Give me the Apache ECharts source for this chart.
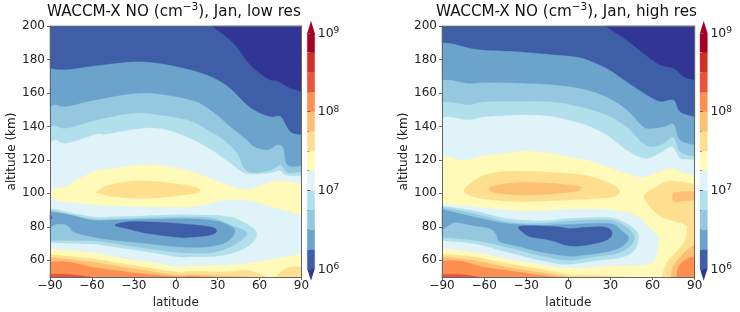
<!DOCTYPE html>
<html><head><meta charset="utf-8">
<style>html,body{margin:0;padding:0;background:#fff}#c{width:740px;height:312px;filter:blur(0.35px)}</style>
<script src="https://cdn.jsdelivr.net/npm/echarts@6/dist/echarts.min.js"></script>
</head><body><div id="c"></div>
<script>
// Filled-contour band colours, lowest level upward
const under='#313695', over='#a50026';
const bandColors=['#3f5ea8','#6ba3cc','#94c8e0','#b1dfeb','#e0f3f8','#fffab8','#fedf90','#fdbf74','#fd9050','#e8553a','#d03028','#a50026'];
const levelExponents=[6,6.25,6.5,6.75,7,7.25,7.5,7.75,8,8.25,8.5,8.75,9];
const C={navy:under,c60:bandColors[0],c62:bandColors[1],c65:bandColors[2],c67:bandColors[3],c70:bandColors[4],c72:bandColors[5],c75:bandColors[6],c77:bandColors[7],c80:bandColors[8],c82:bandColors[9]};
const latTicks=[-90,-60,-30,0,30,60,90];
const altTicks=[60,80,100,120,140,160,180,200];
const cbTicks=[6,7,8,9];

// ---- low-res contours: [latitude, altitude km]
const lowFrame=[[-90,50],[90,50],[90,200],[-90,200]];
const lowTopB0=[[-90,130],[-86,132],[-78,130],[-56.6,135.5],[-50,135.5],[-23,139],[-6.5,138],[13,131.9],[27.4,125],[39.3,118],[50,112],[65.6,112],[74.6,113.6],[78.7,111],[90,110.4],[90,200],[-90,200]];
const lowTop94=[[-90,140],[-86,140.5],[-78,139],[-56,144],[-30,148],[-13,147],[10,143.5],[24.5,137],[34.5,131.9],[44,124],[49,115],[56,112.4],[68,114],[75,117],[80,112.4],[90,113],[90,200],[-90,200]];
const lowTop6b=[[-90,152],[-86,153],[-78,152],[-56.6,156],[-23,160],[10,156],[24.5,150],[39,140],[51,131.9],[56,128],[65.6,126],[72.7,129],[77,127],[80,117],[90,116.4],[90,200],[-90,200]];
const lowTop40=[[-90,174.7],[-78,174],[-54,176.7],[-23,178.7],[10,174],[34,166],[53,151.6],[67,146],[75,146],[82,137],[90,135],[90,200],[-90,200]];
const lowTopNavy=[[26,200],[41,190],[52,178],[60,172],[67,168],[73,167],[82,163],[90,161],[90,200]];
const lowYellow=[[-90,100],[-86,103],[-78,104],[-71,108],[-56.6,113.5],[-47,114.5],[-23,117],[-6.5,116],[10.7,113],[27.4,108],[46.5,102.4],[56,103],[72.7,107.4],[90,105.4],[90,87],[65,93],[52,96],[34,96],[24.5,94],[10,92],[-23,92],[-54,93],[-78,95],[-86,96]];
const lowOrange=[[-56.6,101],[-47,105],[-23,107.5],[10,104.5],[17.4,101.5],[10,99.5],[-19,97],[-45,98],[-54,100]];
const lowRingB0=[[-90,91],[-60,86],[-44,86],[-20,86.6],[2,87.2],[34,86.5],[48,83],[58,76],[51,68],[34,63],[10,62],[2,62],[-20,65],[-44,68],[-60,69.7],[-90,70.5]];
const lowRing94=[[-90,90],[-60,84.7],[-44,84.7],[2,85.8],[25,85.3],[38,81.5],[51,76],[39,68],[24.5,64.5],[2,64.7],[-20,67],[-44,70],[-60,71.7],[-90,71.7]];
const lowRing6b=[[-90,89],[-77,87.4],[-60,84],[-44,84],[2,84.8],[24.5,84],[36.5,81.5],[42.4,77.5],[36.5,71],[22,68],[2,68],[-20,70],[-44,72],[-60,74],[-72.3,76.7],[-75.9,79.5],[-79.5,81.5],[-85.4,81.5],[-90,79.5]];
const lowSpot=[[-90,87],[-88.5,85.5],[-90,84]];
const lowRing40=[[-43.7,81],[-34,83],[-20,83],[2,82],[24.5,80],[29.3,77.5],[24.5,75],[10,73.7],[2,73.7],[-20,76],[-34,78.7]];
const lowBotYellow=[[-90,66.5],[-60,64.7],[-44,62],[-20,59],[2,56],[10,56.5],[34,57],[51,58],[72,61],[90,63.7],[90,50],[-90,50]];
const lowBot75=[[-90,63.5],[-60,61],[-44,58.8],[-20,55.6],[2,52.8],[10,53.5],[34,53],[51,54],[65,50],[-90,50]];
const lowBot75b=[[72,50],[75,53],[82,56],[90,56],[90,50]];
const lowBot77=[[-90,61.7],[-60,59],[-44,56.8],[-20,53.6],[2,51],[10,51.5],[25,51],[52,50],[-90,50]];
const lowBot80=[[-90,59],[-77,59],[-60,56],[-44,54],[-20,51.6],[0,50.2],[10,50.4],[25,50],[-90,50]];
const lowBot82=[[-90,51.8],[-77,51.6],[-60,50],[-90,50]];

// ---- high-res contours
const highFrame=[[-90,50],[90,50],[90,200],[-90,200]];
const highTopE0=[[-90,121],[-85.5,122.3],[-78,120],[-70,120.5],[-59,122.9],[-50,123.5],[-31,125.3],[-12,123.9],[5,121],[13,120],[27.4,116],[41.6,112],[51,109.6],[58.3,111],[72.5,115],[79.6,113],[90,110.6],[90,200],[-90,200]];
const highTopB0=[[-90,144.8],[-85.5,145.8],[-71,144],[-59,145.8],[-31,147],[-12,146],[5,142.8],[13,140.8],[27.4,134.9],[41.6,125.9],[54.7,121],[65.4,124.3],[73.7,127.9],[79.6,121],[84.4,120.5],[90,120],[90,200],[-90,200]];
const highTop94=[[-90,153.8],[-85.5,154.8],[-71,153],[-59.4,154.8],[-35.6,155],[-12,154.8],[5,152.4],[13,150.8],[27.4,146.8],[41.6,139.8],[52,130.9],[59.5,127.9],[67.8,130],[75,133.5],[79.6,125],[90,122],[90,200],[-90,200]];
const highTop6b=[[-90,167.7],[-83,167.7],[-71,165.7],[-59.4,166.3],[-35.6,166],[-12,165],[5,163.3],[13,161.8],[27,157.8],[41.6,150],[52,140.8],[57,138.8],[67.8,139.8],[75,141.4],[79.6,131.9],[90,129],[90,200],[-90,200]];
const highTop40=[[-90,190],[-83,189.6],[-71,187],[-59.4,185.7],[-35.6,184.7],[-12,183],[5,181.7],[13,180],[27.4,174.7],[41.6,166.7],[56,158.8],[65.4,155],[75,155.8],[79.6,148.8],[90,145.8],[90,200],[-90,200]];
const highTopNavy=[[26,200],[41.6,191.6],[53.5,183.7],[65.4,176.7],[74.9,174.7],[83,169.3],[90,168],[90,200]];
const highOrange=[[-73.6,103],[-59.4,111],[-35.6,113.3],[5,111.5],[20,109],[32,105],[36.4,101.4],[33,98],[20,97],[1,96],[-35.6,95],[-59.4,96.6],[-71,99]];
const highOrange2=[[-56.5,102.6],[-50,105],[-28,106.6],[5,104.6],[8.4,102.4],[1,100.6],[-28,99],[-50,100]];
const highRight75=[[54,98],[63,104],[72.5,107.4],[90,105.4],[90,50],[66.6,50],[69.7,58],[75.6,64],[82.7,71],[84.4,78],[82.7,81.5],[65,86.6]];
const highRight77a=[[75,100],[82,101],[90,101],[90,96],[82,95.4],[75,95]];
const highRight77b=[[73,50],[75,57],[83,65],[90,69],[90,50]];
const highRight80=[[76.8,50],[79,57],[85,61],[90,62],[90,50]];
const highRingE0=[[-90,93.4],[-67,92],[-44,90],[-20,89.5],[1,90.5],[22,90.5],[39,89],[49.5,86],[58,79],[64,74],[62.6,63],[56.6,57.6],[29,56.6],[1,55.5],[-20,57.6],[-44,61],[-67.6,65],[-90,67]];
const highRingB0=[[-90,92.4],[-67.6,89.6],[-44,85],[-20,83.5],[1,85],[29.3,85.5],[41,82],[48,78],[50,73],[47,66],[39,62],[22,60],[-1.6,57.6],[-20,60],[-44,65],[-67.6,70],[-90,71.7]];
const highRing94=[[-90,91.4],[-67.6,88],[-44,83],[-20,82],[1,83.5],[29,84],[41,80],[47,74],[43.5,68],[34,64],[17.4,62],[0,60],[-20,62.7],[-44,68],[-67.6,72],[-90,73.7]];
const highRing6b=[[-90,90.4],[-67.6,86],[-44,82],[-20,81],[1,81.5],[29,82],[37.6,78],[43,73],[37.6,68],[27,65],[10,63],[0,62.5],[-20,65],[-34,68],[-48.6,71],[-51,75],[-55.8,79],[-67.6,80.7],[-79.5,82.7],[-84,81.5],[-90,78]];
const highRing40=[[-35.6,79.7],[-29.6,80.7],[-8,80],[1,79],[12.7,79.7],[27,79.7],[31.2,76],[27,72],[12.7,69],[0,68.7],[-13,72],[-27,74],[-33,77]];
const highBot75=[[-90,63.7],[-67,62],[-44,58],[-20,54.8],[1,51.5],[22,51],[41,50],[-90,50]];
const highBot77=[[-90,62],[-67,59.8],[-44,56],[-20,52.8],[1,50],[-90,50]];
const highBot80=[[-90,59.6],[-77,59.6],[-60.5,56],[-44,54],[-20,51],[-8,50],[-90,50]];
const highBot82=[[-90,51.6],[-77,51.6],[-64,50],[-90,50]];

const lowLayers=[[C.c70,lowFrame],[C.c67,lowTopB0],[C.c65,lowTop94],[C.c62,lowTop6b],[C.c60,lowTop40],[C.navy,lowTopNavy],
 [C.c72,lowYellow],[C.c75,lowOrange],[C.c67,lowRingB0],[C.c65,lowRing94],[C.c62,lowRing6b],[C.c60,lowSpot],[C.c60,lowRing40],
 [C.c72,lowBotYellow],[C.c75,lowBot75],[C.c75,lowBot75b],[C.c77,lowBot77],[C.c80,lowBot80],[C.c82,lowBot82]];
const highLayers=[[C.c72,highFrame],[C.c70,highTopE0],[C.c67,highTopB0],[C.c65,highTop94],[C.c62,highTop6b],[C.c60,highTop40],[C.navy,highTopNavy],
 [C.c75,highOrange],[C.c77,highOrange2],[C.c75,highRight75],[C.c77,highRight77a],[C.c77,highRight77b],[C.c80,highRight80],
 [C.c70,highRingE0],[C.c67,highRingB0],[C.c65,highRing94],[C.c62,highRing6b],[C.c60,highRing40],
 [C.c75,highBot75],[C.c77,highBot77],[C.c80,highBot80],[C.c82,highBot82]];

// Smooth a contour for drawing (the frame edges stay straight)
const onEdge=(a,b)=>(Math.abs(a[0])===90&&a[0]===b[0])||((a[1]===50||a[1]===200)&&a[1]===b[1]);
function smooth(pts){
  const n=pts.length,out=[];
  for(let i=0;i<n;i++){
    let p1=pts[i],p2=pts[(i+1)%n],p0=pts[(i-1+n)%n],p3=pts[(i+2)%n];
    if(onEdge(p1,p2)){out.push(p1);continue;}
    if(onEdge(p0,p1))p0=p1;
    if(onEdge(p2,p3))p3=p2;
    for(let k=0;k<8;k++){
      const t=k/8,t2=t*t,t3=t2*t;
      const f=j=>0.5*(2*p1[j]+(p2[j]-p0[j])*t+(2*p0[j]-5*p1[j]+4*p2[j]-p3[j])*t2+(3*p1[j]-p0[j]-3*p2[j]+p3[j])*t3);
      out.push([Math.max(-90,Math.min(90,f(0))),Math.max(50,Math.min(200,f(1)))]);
    }
  }
  return out;
}
function layerSeries(layer,g){
  const color=layer[0],pts=layer[1],dense=smooth(pts);
  return {type:'custom',xAxisIndex:g,yAxisIndex:g,silent:true,animation:false,data:pts,
    encode:{x:0,y:1},
    renderItem:(p,api)=>p.dataIndex?null:{type:'polygon',shape:{points:dense.map(q=>api.coord(q))},style:{fill:color,stroke:color,lineWidth:0.3}}};
}
const FONT='DejaVu Sans',TXT='#222';
function plotAxes(g){
  const line={show:true,onZero:false,lineStyle:{color:'#666',width:1}};
  return {
   x:[{gridIndex:g,type:'value',min:-90,max:90,interval:30,z:10,axisLine:line,axisTick:{show:true,length:3,lineStyle:{color:'#666'}},splitLine:{show:false},
       name:'latitude',nameLocation:'middle',nameGap:18,nameTextStyle:{fontFamily:FONT,fontSize:12,color:TXT},
       axisLabel:{fontFamily:FONT,fontSize:12,color:TXT,margin:3,showMinLabel:true,showMaxLabel:true,hideOverlap:false,formatter:v=>String(v).replace('-','\u2212')}},
      {gridIndex:g,type:'value',position:'top',min:-90,max:90,z:10,axisLine:line,axisTick:{show:false},axisLabel:{show:false},splitLine:{show:false}}],
   y:[{gridIndex:g,type:'value',min:50,max:200,z:10,axisLine:line,splitLine:{show:false},
       axisTick:{show:true,length:3,customValues:altTicks,lineStyle:{color:'#666'}},
       name:'altitude (km)',nameLocation:'middle',nameGap:31,nameTextStyle:{fontFamily:FONT,fontSize:12,color:TXT},
       axisLabel:{fontFamily:FONT,fontSize:12,color:TXT,margin:5,customValues:altTicks}},
      {gridIndex:g,type:'value',position:'right',min:50,max:200,z:10,axisLine:line,axisTick:{show:false},axisLabel:{show:false},splitLine:{show:false}}]
  };
}
function cbAxes(g){
  return {
   x:[{gridIndex:g,type:'value',min:0,max:1,show:false}],
   y:[{gridIndex:g,type:'value',position:'right',min:6,max:9,interval:1,z:10,splitLine:{show:false},
       axisLine:{show:false},axisTick:{show:true,length:3,lineStyle:{color:'#666'}},
       minorTick:{show:true,splitNumber:4,length:2,lineStyle:{color:'#999'}},
       axisLabel:{margin:3,fontFamily:FONT,formatter:v=>'{b|10}{s|'+v+'}',
         rich:{b:{fontFamily:FONT,fontSize:12.5,color:TXT,verticalAlign:'bottom',lineHeight:14},s:{fontFamily:FONT,fontSize:9,color:TXT,verticalAlign:'top',lineHeight:14,padding:[0,0,5,0]}}}}]
  };
}
function cbSeries(g){
  const ax=g;
  return [{type:'custom',xAxisIndex:ax,yAxisIndex:ax,silent:true,animation:false,
    data:bandColors.map((c,i)=>[levelExponents[i],levelExponents[i+1]]),
    encode:{y:[0,1]},
    renderItem:(p,api)=>{
      const a=api.coord([0,api.value(0)]),b=api.coord([1,api.value(1)]);
      return {type:'rect',shape:{x:a[0],y:b[1],width:b[0]-a[0],height:a[1]-b[1]},style:{fill:bandColors[p.dataIndex],stroke:bandColors[p.dataIndex],lineWidth:0.3}};
    }},
   {type:'custom',xAxisIndex:ax,yAxisIndex:ax,silent:true,animation:false,
    data:[[9,9.155,over],[6,5.85,under]],encode:{y:[0,1]},
    renderItem:(p,api)=>{
      const b=api.value(0),t=api.value(1);
      return {type:'polygon',shape:{points:[api.coord([0,b]),api.coord([1,b]),api.coord([0.5,t])]},style:{fill:p.dataIndex?under:over}};
    }}];
}
const a0=plotAxes(0),a1=plotAxes(1),c0=cbAxes(2),c1=cbAxes(3);
// second axes (top and right spines) follow the main ones
const xAxis=[a0.x[0],a1.x[0],c0.x[0],c1.x[0],a0.x[1],a1.x[1]];
const yAxis=[a0.y[0],a1.y[0],c0.y[0],c1.y[0],a0.y[1],a1.y[1]];
const titleRich={a:{fontFamily:FONT,fontSize:15.2,fontWeight:'normal',color:'#111',verticalAlign:'bottom',lineHeight:18},s:{fontFamily:FONT,fontSize:10.5,fontWeight:'normal',color:'#111',verticalAlign:'top',lineHeight:18}};
const option={
  backgroundColor:'#fff',animation:false,
  title:[
    {text:'{a|WACCM-X NO (cm}{s|\u22123}{a|), Jan, low res}',left:47,top:0,padding:[2,0,0,0],textStyle:{fontWeight:'normal',rich:titleRich}},
    {text:'{a|WACCM-X NO (cm}{s|\u22123}{a|), Jan, high res}',left:436,top:0,padding:[2,0,0,0],textStyle:{fontWeight:'normal',rich:titleRich}}
  ],
  grid:[
    {left:50,top:26,width:251.5,height:251,outerBoundsMode:'none'},
    {left:442,top:26,width:252.7,height:251,outerBoundsMode:'none'},
    {left:307.3,top:33,width:7.4,height:236,outerBoundsMode:'none'},
    {left:700,top:33,width:7.4,height:236,outerBoundsMode:'none'}
  ],
  xAxis,yAxis,
  series:[...lowLayers.map(l=>layerSeries(l,0)),...highLayers.map(l=>layerSeries(l,1)),...cbSeries(2),...cbSeries(3)]
};
echarts.init(document.getElementById('c'),null,{renderer:'canvas'}).setOption(option);
</script></body></html>
